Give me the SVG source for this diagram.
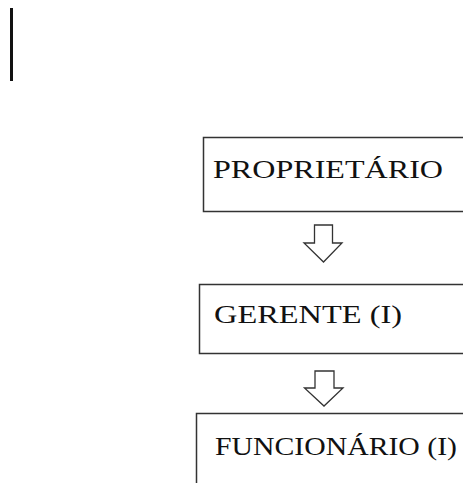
<svg xmlns="http://www.w3.org/2000/svg" width="463" height="483" viewBox="0 0 463 483">
<style>
.box{fill:#fff;stroke:#333;stroke-width:1.5}
.lbl{font-family:"Liberation Serif","Times New Roman",serif;font-size:25px;fill:#111}
.arr{fill:#fff;stroke:#333;stroke-width:1.3;stroke-linejoin:miter}
</style>
<rect width="463" height="483" fill="#fff"/>
<line x1="11.5" y1="8" x2="11.5" y2="81" stroke="#111" stroke-width="3"/>
<g id="proprietario">
<rect class="box" x="203.5" y="137.5" width="280" height="74"/>
<text class="lbl" x="213" y="178" textLength="230" lengthAdjust="spacingAndGlyphs">PROPRIETÁRIO</text>
</g>
<g id="gerente">
<rect class="box" x="199.5" y="284.5" width="280" height="69"/>
<text class="lbl" x="214" y="323" textLength="188" lengthAdjust="spacingAndGlyphs">GERENTE (I)</text>
</g>
<g id="funcionario">
<rect class="box" x="196.5" y="413.5" width="280" height="90"/>
<text class="lbl" x="215" y="455" textLength="242" lengthAdjust="spacingAndGlyphs">FUNCIONÁRIO (I)</text>
</g>
<g id="connectors">
<polygon class="arr" points="314.5,225 332.5,225 332.5,243 342,243 323.5,262 304,243 314.5,243"/>
<polygon class="arr" points="315,371 334,371 334,388 343,388 324,406 304.5,388 315,388"/>
</g>
</svg>
